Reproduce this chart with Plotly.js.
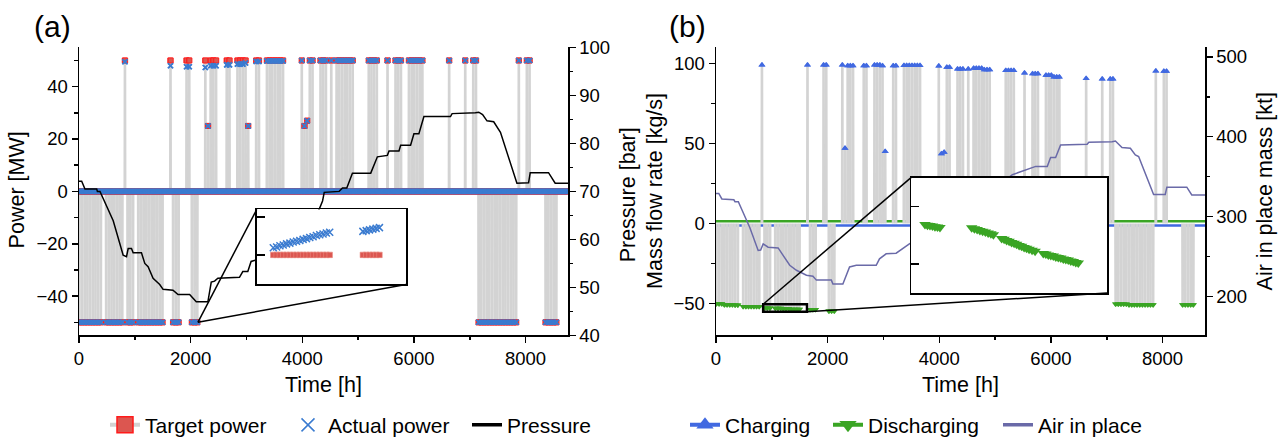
<!DOCTYPE html>
<html><head><meta charset="utf-8">
<script src="https://cdn.plot.ly/plotly-3.0.1.min.js"></script>
<style>html,body{margin:0;padding:0;background:#fff}#chart{width:1282px;height:446px}</style>
</head><body><div id="chart"></div>
<script>
// ================= DATA =================
// Charging periods [h]
const chargeStart    = [830,1655,1960,2280,2321,2340,2680,2860,3010,3036,3045,3180,3380,4030,4054,4085,4100,4360,4520,4620,4820,5190,5520,5700,5930,6070,6655,6940,7095,7905,8060];
const chargeEnd      = [850,1665,1970,2300,2321,2460,2700,2930,3025,3036,3060,3240,3690,4045,4054,4085,4200,4420,4540,4790,4910,5340,5540,5770,6000,6180,6670,6950,7110,7915,8075];
const chargeTargetMW = [50,50,50,50,25,50,50,50,50,25,50,50,50,50,25,27,50,50,50,50,50,50,50,50,50,50,50,50,50,50,50];
const chargeActualMW = [49.5,48,47.6,47.3,25,48,48.3,48.6,49,25,49,49.6,49.8,50,25,27,50,50,50,50,50,50,50,50,50,50,50,50,50,50,50];
const chargeFlow     = [99,99,99,99,47,98.5,98.5,99,98.5,45,98.5,98.5,98.7,98.3,43.5,44.5,97.5,96.5,96.5,97,96,95.5,94,93.5,92.5,91.5,90.5,90.3,90.3,95.3,95];
// Discharging periods [h]
const dischargeStart    = [20,180,340,500,890,1090,1200,1370,1700,2060,7125,7395,8395];
const dischargeEnd      = [110,320,410,800,985,1180,1340,1530,1780,2140,7360,7890,8555];
const dischargeTargetMW = [-50,-50,-50,-50,-50,-50,-50,-50,-50,-50,-50,-50,-50];
const dischargeActualMW = [-50,-50,-50,-50,-50,-50,-50,-50,-50,-50,-50,-50,-50];
const dischargeFlow     = [-50.2,-50.8,-51,-52,-52.8,-53,-53.3,-53.6,-53.8,-54.7,-50.3,-50.8,-50.8];
// idle flow levels shown as bands in (b)
const chargeIdleFlow = -1.3;
const dischargeIdleFlow = 1.3;
// Pressure [bar]
const pressureTime = [0,48,107,317,330,376,613,791,851,881,940,970,1119,1179,1238,1327,1446,1506,1684,1774,1982,2101,2309,2369,2429,2488,2875,2934,3024,3083,3173,3380,3690,4030,4200,4304,4363,4393,4661,4720,4797,4898,5226,5345,5524,5554,5732,5762,5940,6000,6089,6179,6655,6684,7101,7161,7230,7309,7429,7518,7550,7845,7905,8054,8083,8411,8530,8760];
const pressureBar  = [72.1,72.1,70.5,70.5,70.0,70.0,63.9,56.7,56.4,58.1,58.1,57.2,57.2,55.0,54.3,51.9,50.6,49.6,49.4,48.5,48.5,47.0,47.0,51.1,51.3,51.9,52.1,53.3,53.3,55.4,55.7,55.9,60.5,60.8,64.5,66.3,68.0,69.8,70.0,70.7,70.7,73.8,73.8,77.2,77.5,78.4,78.4,79.6,79.6,82.0,82.0,85.6,85.6,86.2,86.4,86.5,86.0,84.7,84.5,82.7,82.3,71.7,71.7,71.8,73.9,73.9,71.7,71.7];
// Air in place [kt]
const airTime = [0,50,105,320,340,400,607,755,800,845,934,1113,1202,1321,1441,1620,1737,1798,2066,2095,2273,2393,2513,2870,2929,3048,3227,3345,3464,3700,4030,4200,4400,4700,4800,4900,5190,5309,5518,5727,5934,5994,6084,6173,6649,6679,7095,7155,7273,7423,7512,7571,7839,8048,8077,8434,8523,8760];
const airKt   = [329,329,322,321,318.6,318.6,286,257.5,258,265.7,261.6,260.7,251.3,238.9,232.7,226.5,225.2,220.3,220.3,215.3,215.3,236.8,238.9,238.9,247,253.3,254.1,259.5,265.7,275,277,292,318,321,324,338,346,352.4,357.4,362.8,362.8,374,374,389.6,390.5,393,393.8,394.6,386.4,385.5,377.3,375.2,327.7,327.7,336.8,336.8,327,327];
// Inset (a): hourly detail of a discharge period
const insetATime     = [2095,2096,2097,2098,2099,2100,2101,2102,2103,2104,2105,2106,2107,2108,2109,2110,2111,2112,null,2122,2123,2124,2125,2126,2127];
const insetAActualMW = [-49.81,-49.79,-49.76,-49.74,-49.71,-49.69,-49.66,-49.64,-49.62,-49.59,-49.57,-49.54,-49.52,-49.49,-49.47,-49.45,-49.42,-49.40,null,-49.38,-49.36,-49.34,-49.32,-49.30,-49.28];
const insetATargetMW = [-50,-50,-50,-50,-50,-50,-50,-50,-50,-50,-50,-50,-50,-50,-50,-50,-50,-50,null,-50,-50,-50,-50,-50,-50];
// Inset (b): discharge mass flow detail
const insetBTime = [901,911,921,931,941,951,961,null,1088,1099,1110,1121,1132,1143,1154,1165,1175,null,1208,1218,1228,1238,1248,1258,1268,1278,1288,1298,1308,1318,1330,1342,null,1375,1385,1395,1405,1415,1425,1435,1445,1455,1465,1475,1485,1495,1505,1515];
const insetBFlow = [-51.63,-51.65,-51.66,-51.68,-51.70,-51.71,-51.73,null,-51.74,-51.77,-51.80,-51.83,-51.86,-51.89,-51.92,-51.95,-51.98,null,-52.11,-52.14,-52.18,-52.21,-52.25,-52.28,-52.31,-52.35,-52.38,-52.42,-52.45,-52.48,-52.52,-52.55,null,-52.63,-52.65,-52.68,-52.70,-52.72,-52.75,-52.77,-52.79,-52.82,-52.84,-52.86,-52.89,-52.91,-52.94,-52.96];
// Zoomed windows
const zoomPointA = [2130, -50];                // point in (a) that the inset magnifies
const zoomRectB  = [845, 1630, -55.2, -50.5];  // t0, t1, q0, q1 in (b)
const yearHours = 8760;
const cycleHours = 48;                          // spacing of operating cycles inside a period

// ================= build schedule from the periods =================
const events = [];
chargeStart.forEach((s,i)=>events.push({s, e:chargeEnd[i], tgt:chargeTargetMW[i], act:chargeActualMW[i], flow:chargeFlow[i], kind:'c'}));
dischargeStart.forEach((s,i)=>events.push({s, e:dischargeEnd[i], tgt:dischargeTargetMW[i], act:dischargeActualMW[i], flow:dischargeFlow[i], kind:'d'}));
events.sort((a,b)=>(a.e-a.s)-(b.e-b.s));
const sched = [];
for (let t = 0; t < yearHours; t += cycleHours) {
  const ev = events.find(E => t <= E.e && t + cycleHours > E.s);
  if (ev) sched.push([t,null,true],[t+3,ev,true],[t+11,ev,true],[t+14,null,true],[t+30,null,false]);
  else sched.push([t,null,false],[t+16,null,false],[t+32,null,false]);
}
const sT   = sched.map(p=>p[0]);
const sTgt = sched.map(p=>p[1]?p[1].tgt:0);
const sAct = sched.map(p=>p[1]?p[1].act:0);
const sGrayP = sched.map(p=>p[2]?(p[1]?p[1].tgt:0):null);
const sGrayQ = sched.map(p=>p[2]?(p[1]?p[1].flow:0):null);
const cT=[],cQ=[],dT=[],dQ=[];
sched.forEach(p=>{ if(p[1]){ if(p[1].kind==='c'){cT.push(p[0]);cQ.push(p[1].flow);} else {dT.push(p[0]);dQ.push(p[1].flow);} } });

// ================= layout geometry =================
const W=1282,H=446;
const dom = {
  ax:[79/W,568/W], bx:[716/W,1205/W], y:[(H-340)/H,(H-48)/H],
  iax:[256.7/W,406/W], iay:[(H-288.3)/H,(H-212.3)/H],
  ibx:[911/W,1107/W], iby:[(H-297)/H,(H-180)/H]
};
const rT=[0,yearHours], rP=[-55,55], rBar=[40,100], rQ=[-70,110], rM=[151,512];
const toPaper=(v,r,d)=>d[0]+(v-r[0])/(r[1]-r[0])*(d[1]-d[0]);

const C = {gray:'#d3d3d3', red:'#dc5650', redEdge:'#ff1a1a', blue:'#3a7bd0', charge:'#4169e1', dis:'#3aa524', air:'#6a6aa8'};

const traces = [
  // (a)
  {x:sT,y:sGrayP,xaxis:'x',yaxis:'y',mode:'lines',line:{color:C.gray,width:2.2,simplify:false},connectgaps:false,showlegend:false,hoverinfo:'skip'},
  {x:sT,y:sTgt,xaxis:'x',yaxis:'y',mode:'markers',
   marker:{symbol:'square',size:5,color:C.red,line:{color:C.redEdge,width:0.8}},showlegend:false,hoverinfo:'skip'},
  {x:sT,y:sAct,xaxis:'x',yaxis:'y',mode:'markers',marker:{symbol:'x-thin',size:5,line:{color:C.blue,width:1.5}},showlegend:false,hoverinfo:'skip'},
  {x:pressureTime,y:pressureBar,xaxis:'x',yaxis:'y2',mode:'lines',line:{color:'#000',width:1.5},showlegend:false,hoverinfo:'skip'},
  // (b)
  {x:rT,y:[chargeIdleFlow,chargeIdleFlow],xaxis:'x2',yaxis:'y3',mode:'lines',line:{color:C.charge,width:2.5},showlegend:false,hoverinfo:'skip'},
  {x:rT,y:[dischargeIdleFlow,dischargeIdleFlow],xaxis:'x2',yaxis:'y3',mode:'lines',line:{color:C.dis,width:2.5},showlegend:false,hoverinfo:'skip'},
  {x:sT,y:sGrayQ,xaxis:'x2',yaxis:'y3',mode:'lines',line:{color:C.gray,width:2.2,simplify:false},connectgaps:false,showlegend:false,hoverinfo:'skip'},
  {x:cT,y:cQ,xaxis:'x2',yaxis:'y3',mode:'markers',marker:{symbol:'triangle-up',size:6,color:C.charge},showlegend:false,hoverinfo:'skip'},
  {x:dT,y:dQ,xaxis:'x2',yaxis:'y3',mode:'markers',marker:{symbol:'triangle-down',size:6,color:C.dis},showlegend:false,hoverinfo:'skip'},
  {x:airTime,y:airKt,xaxis:'x2',yaxis:'y4',mode:'lines',line:{color:C.air,width:1.5},showlegend:false,hoverinfo:'skip'},
  // insets
  {x:insetATime,y:insetATargetMW,xaxis:'x3',yaxis:'y5',mode:'markers',marker:{symbol:'square',size:5.5,color:C.red,line:{color:'#e98a80',width:0.6}},showlegend:false,hoverinfo:'skip'},
  {x:insetATime,y:insetAActualMW,xaxis:'x3',yaxis:'y5',mode:'markers',marker:{symbol:'x-thin',size:7,line:{color:C.blue,width:1.5}},showlegend:false,hoverinfo:'skip'},
  {x:insetBTime,y:insetBFlow,xaxis:'x4',yaxis:'y6',mode:'markers',marker:{symbol:'triangle-down',size:10,color:C.dis},showlegend:false,hoverinfo:'skip'},
  // legend entries
  {x:[null],y:[null],xaxis:'x',yaxis:'y',name:'Target power',mode:'lines+markers',line:{color:C.gray,width:4},marker:{symbol:'square',size:16,color:C.red,line:{color:C.redEdge,width:1.5}},legend:'legend'},
  {x:[null],y:[null],xaxis:'x',yaxis:'y',name:'Actual power',mode:'markers',marker:{symbol:'x-thin',size:13,line:{color:C.blue,width:1.5}},legend:'legend2'},
  {x:[null],y:[null],xaxis:'x',yaxis:'y',name:'Pressure',mode:'lines',line:{color:'#000',width:3.5},legend:'legend3'},
  {x:[null],y:[null],xaxis:'x2',yaxis:'y3',name:'Charging',mode:'lines+markers',line:{color:C.charge,width:4},marker:{symbol:'triangle-up',size:15,color:C.charge},legend:'legend4'},
  {x:[null],y:[null],xaxis:'x2',yaxis:'y3',name:'Discharging',mode:'lines+markers',line:{color:C.dis,width:4},marker:{symbol:'triangle-down',size:15,color:C.dis},legend:'legend5'},
  {x:[null],y:[null],xaxis:'x2',yaxis:'y3',name:'Air in place',mode:'lines',line:{color:C.air,width:3.5},legend:'legend6'}
];

const minorT = (dt)=>({ticks:'outside',ticklen:3.5,tickwidth:1.5,tickcolor:'#000',dtick:dt,tick0:0});
const base = {showline:true,linecolor:'#000',linewidth:1.5,ticks:'outside',ticklen:6,tickwidth:1.5,tickcolor:'#000',
  showgrid:false,zeroline:false,tickfont:{size:18.5,color:'#000'},fixedrange:true};
const insetAxis = {showline:true,mirror:true,linecolor:'#000',linewidth:1.5,showgrid:false,zeroline:false,showticklabels:false,fixedrange:true};

const F = 'Liberation Sans, Arial, sans-serif';
const ann = (text,x,y,size,angle)=>({text,x:x/W,y:(H-y)/H,xref:'paper',yref:'paper',showarrow:false,
  textangle:angle||0,xanchor:'center',yanchor:'middle',font:{size,color:'#000',family:F}});
const leg = (xpx)=>({orientation:'h',x:xpx/W,xanchor:'left',y:(H-431)/H,yanchor:'middle',
  font:{size:21,color:'#000',family:F},bgcolor:'rgba(0,0,0,0)',borderwidth:0});

const pA = [toPaper(zoomPointA[0],rT,dom.ax), toPaper(zoomPointA[1],rP,dom.y)];
const rb0 = [toPaper(zoomRectB[0],rT,dom.bx), toPaper(zoomRectB[3],rQ,dom.y)];
const rb1 = [toPaper(zoomRectB[1],rT,dom.bx), toPaper(zoomRectB[2],rQ,dom.y)];
const lineS = {color:'#000',width:1.5};

const layout = {
  width:W,height:H,margin:{l:0,r:0,t:0,b:0},paper_bgcolor:'#fff',plot_bgcolor:'#fff',
  font:{family:F,size:18.5,color:'#000'},
  xaxis:{...base,domain:dom.ax,range:rT,anchor:'y',dtick:2000,tick0:0,minor:minorT(1000)},
  yaxis:{...base,domain:dom.y,range:rP,anchor:'x',dtick:20,tick0:0,minor:minorT(10)},
  yaxis2:{...base,overlaying:'y',side:'right',anchor:'x',range:rBar,dtick:10,tick0:0,minor:minorT(5)},
  xaxis2:{...base,domain:dom.bx,range:rT,anchor:'y3',dtick:2000,tick0:0,minor:minorT(1000)},
  yaxis3:{...base,domain:dom.y,range:rQ,anchor:'x2',dtick:50,tick0:0,minor:minorT(25)},
  yaxis4:{...base,overlaying:'y3',side:'right',anchor:'x2',range:rM,dtick:100,tick0:0,minor:minorT(50)},
  xaxis3:{...insetAxis,domain:dom.iax,range:[2090,2135],anchor:'y5',ticks:''},
  yaxis5:{...insetAxis,domain:dom.iay,range:[-50.78,-48.8],anchor:'x3',ticks:'inside',ticklen:8,tickwidth:1.5,tickcolor:'#000',tickvals:[-50,-49]},
  xaxis4:{...insetAxis,domain:dom.ibx,range:[zoomRectB[0],zoomRectB[1]],anchor:'y6',ticks:''},
  yaxis6:{...insetAxis,domain:dom.iby,range:[-54,-50],anchor:'x4',ticks:'inside',ticklen:8,tickwidth:1.5,tickcolor:'#000',tickvals:[-51,-53]},
  legend:leg(105), legend2:leg(288), legend3:leg(467), legend4:leg(685), legend5:leg(828), legend6:leg(998),
  shapes:[
    {type:'line',xref:'paper',yref:'paper',x0:pA[0],y0:pA[1],x1:dom.iax[0],y1:dom.iay[1],line:lineS},
    {type:'line',xref:'paper',yref:'paper',x0:pA[0],y0:pA[1],x1:dom.iax[1],y1:dom.iay[0],line:lineS},
    {type:'rect',xref:'x2',yref:'y3',x0:zoomRectB[0],x1:zoomRectB[1],y0:zoomRectB[2],y1:zoomRectB[3],line:{color:'#000',width:2.5}},
    {type:'line',xref:'paper',yref:'paper',x0:rb0[0],y0:rb0[1],x1:dom.ibx[0],y1:dom.iby[1],line:lineS},
    {type:'line',xref:'paper',yref:'paper',x0:rb1[0],y0:rb1[1],x1:dom.ibx[1],y1:dom.iby[0],line:lineS}
  ],
  annotations:[
    ann('Power [MW]',17,193,21.5,-90),
    ann('Pressure [bar]',628,198,21.5,-90),
    ann('Mass flow rate [kg/s]',655,193.5,21.5,-90),
    ann('Air in place mass [kt]',1265,194,21.5,-90),
    ann('Time [h]',323.5,390,21.5),
    ann('Time [h]',960.5,390,21.5),
    ann('(a)',52,27,30),
    ann('(b)',687,27,30)
  ]
};
Plotly.newPlot('chart',traces,layout,{staticPlot:true,displayModeBar:false});
</script>
</body></html>
